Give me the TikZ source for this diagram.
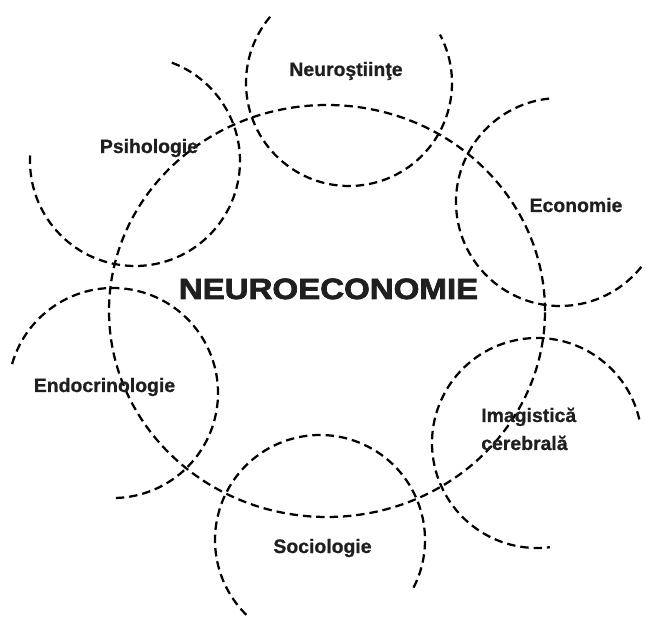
\documentclass[tikz,border=0pt]{standalone}
\usepackage{fontspec}
\setmainfont{Liberation Sans}
\newfontfamily\titlefont[FakeStretch=1.13, FakeBold=2.5]{Liberation Sans}
\newfontfamily\fieldfont[FakeBold=0.8]{Liberation Sans}
\usetikzlibrary{positioning}

\tikzset{
	field/.style={font=\fieldfont\bfseries\fontsize{13.8}{19.9}\selectfont, text=black!88, inner sep=0pt},
	ring/.style={dash pattern=on 6pt off 3.5pt, line width=1.6pt, black},
}

\begin{document}
\begin{tikzpicture}[x=0.025cm, y=0.025cm]
		% Keep the margins of the slide
		\useasboundingbox (0,0) rectangle (645,619);
		
		% 1. Centres of the fields
		\coordinate (C0) at (327,308); % neuroeconomie
		\coordinate (NS) at (349,536);
		\coordinate (PS) at (135,458);
		\coordinate (EC) at (560,417);
		\coordinate (IM) at (537,176);
		\coordinate (SO) at (320,79);
		\coordinate (EN) at (113,226);
		
		% 2. Central field
		\draw[ring] (C0) ellipse [x radius=218, y radius=206];
		
		% 3. Neighbouring fields, open circles
		% centre / radius / start angle / end angle
		\foreach \c/\r/\a/\b in {NS/103/140/388, PS/105/177/431, EC/104/96/322,
			IM/105/13/277, SO/105/-27/226, EN/105/164/-90} {
			\draw[ring] (\c) ++(\a:\r) arc[start angle=\a, end angle=\b, radius=\r];
		}
		
		% 4. Labels
		\node[anchor=base, text=black!88, inner sep=0pt,
			font=\titlefont\bfseries\fontsize{20.8}{24}\selectfont] (neuroec) at (328.5,320) {NEUROECONOMIE};
		
		\node[field, anchor=base] (neurost) at (346,543) {Neuroştiinţe};
		\node[field, anchor=base] (psiho) at (149,466) {Psihologie};
		\node[field, anchor=base] (econ) at (576,407) {Economie};
		\node[field, anchor=base] (endo) at (104.5,227) {Endocrinologie};
		\node[field, anchor=base west] (imag) at (481,197) {Imagistică};
		\node[field, anchor=base west] (cereb) at (481,169) {cerebrală};
		\node[field, anchor=base] (socio) at (322.5,66) {Sociologie};
		
	\end{tikzpicture}
\end{document}
